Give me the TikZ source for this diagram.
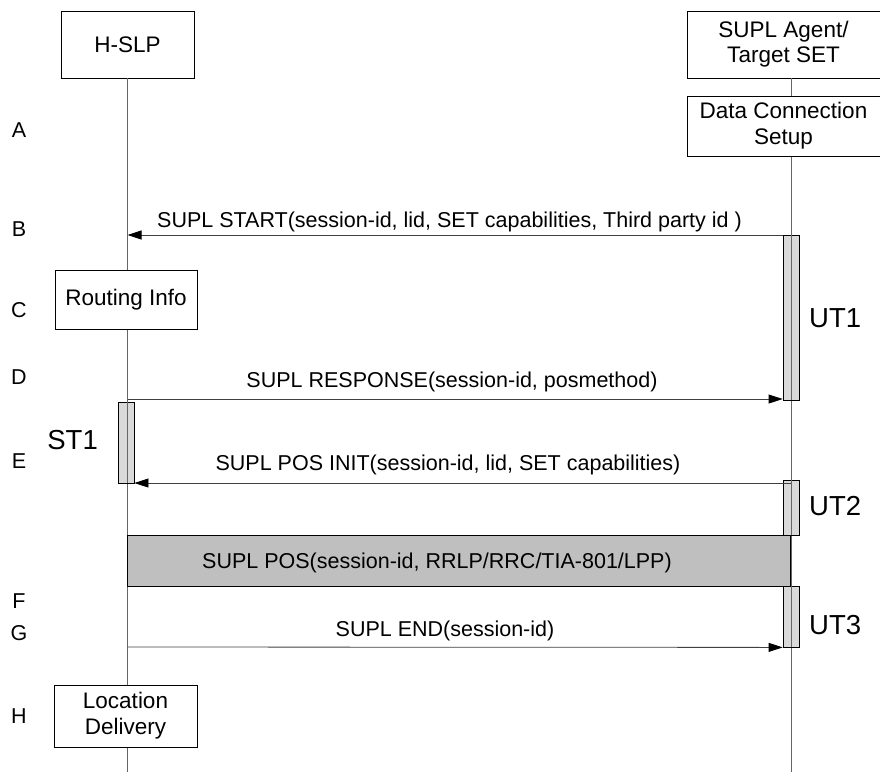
\documentclass[tikz,border=0pt]{standalone}
\usepackage{fontspec}
\setmainfont{Liberation Sans}
\usetikzlibrary{arrows.meta}
\begin{document}
\begin{tikzpicture}[x=1pt,y=-1pt,
  every node/.style={font=\fontsize{21.5}{25}\selectfont},
  ent/.style={draw,line width=0.8pt,fill=white,minimum width=133pt,minimum height=67pt,inner sep=0pt,align=center,font=\fontsize{22.5}{25}\selectfont},
  proc/.style={draw,line width=0.8pt,fill=white,inner sep=0pt,align=center,font=\fontsize{22.5}{26}\selectfont},
  act/.style={draw,line width=0.8pt,fill=black!15,inner sep=0pt,minimum width=16pt},
  life/.style={line width=0.8pt,draw=black!60},
  msg/.style={line width=0.8pt,draw=black!75,-{Triangle[length=14pt,width=9pt,color=black]}},
  lbl/.style={inner sep=0pt,anchor=base},
  tlbl/.style={inner sep=0pt,anchor=base west,font=\fontsize{27.5}{30}\selectfont}]
\useasboundingbox (0,0) rectangle (880,772);
% entities
\node[ent] (hslp) at (127.5,44.5) {H-SLP};
\node[ent,minimum width=193pt] (set) at (783.5,44.5) {SUPL Agent/\\Target SET};
\coordinate (hbot) at (127.5,772);
\coordinate (sbot) at (791,772);
\coordinate (stop) at (791,78);
% lifelines
\draw[life] (hslp.south) -- (hbot);
\draw[life] (stop) -- (sbot);
% step letters
\foreach \l/\y in {A/137,B/236,C/317,D/384,E/468,F/608,G/640,H/723}
  \node[lbl] (step\l) at (19,\y) {\l};
% data connection setup
\node[proc,minimum width=193pt,minimum height=60pt] (dcs) at (783.5,126) {Data Connection\\Setup};
% routing info
\node[proc,minimum width=142pt,minimum height=59pt] (ri) at (126,299.5) {Routing Info};
% location delivery
\node[proc,minimum width=143pt,minimum height=62pt] (ld) at (125.5,716) {Location\\Delivery};
% activation bars
\node[act,minimum height=165pt] (ut1) at (791,317.5) {};
\node[act,minimum height=81pt] (st1) at (126,442.5) {};
\node[act,minimum height=55pt] (ut2) at (791,507.5) {};
\node[act,minimum height=61pt] (ut3) at (791,616.5) {};
\draw[life] (ut1.north) -- (ut1.south);
\draw[life] (st1.north -| hslp.south) -- (st1.south -| hslp.south);
\draw[life] (ut2.north) -- (ut2.south);
\draw[life] (ut3.north) -- (ut3.south);
\node[tlbl] (ut1l) at (809,327) {UT1};
\node[tlbl,anchor=base east] (st1l) at (98,449) {ST1};
\node[tlbl] (ut2l) at (809,515) {UT2};
\node[tlbl] (ut3l) at (809,634) {UT3};
% messages
\coordinate (bS) at (ut1.north west |- 0,235);
\coordinate (bH) at (127.5,235);
\draw[msg] (bS) -- (bH);
\node[lbl] (bl) at (449.5,227) {SUPL START(session-id, lid, SET capabilities, Third party id )};
\coordinate (dH) at (127.5,399);
\coordinate (dS) at (ut1.south west |- 0,399);
\draw[msg] (dH) -- (dS);
\node[lbl] (dl) at (452,387) {SUPL RESPONSE(session-id, posmethod)};
\coordinate (eS) at (791,483);
\coordinate (eH) at (st1.east |- 0,483);
\draw[msg] (eS) -- (eH);
\node[lbl] (el) at (448,470) {SUPL POS INIT(session-id, lid, SET capabilities)};
% SUPL POS box
\node[draw,line width=0.8pt,fill=black!25,minimum width=663pt,minimum height=51pt,inner sep=0pt] (pos) at (458.5,560.5) {};
\node[lbl] (posl) at (437,568) {SUPL POS(session-id, RRLP/RRC/TIA-801/LPP)};
\coordinate (gH) at (127.5,647);
\coordinate (gS) at (ut3.south west);
\draw[msg] (gH) -- (gS);
\node[lbl] (gl) at (445,636.5) {SUPL END(session-id)};
\end{tikzpicture}
\end{document}
